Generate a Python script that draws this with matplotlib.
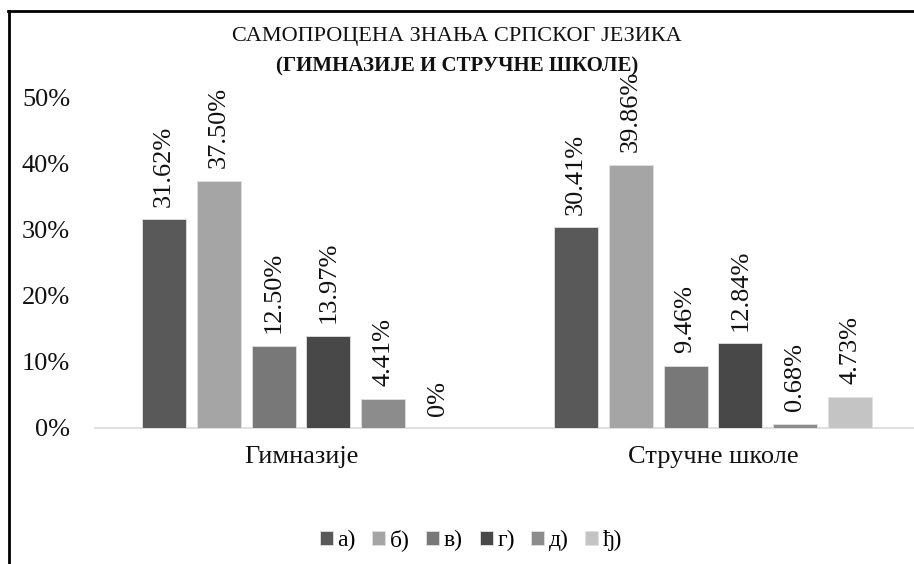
import matplotlib.pyplot as plt
import numpy as np
from matplotlib.lines import Line2D
from matplotlib.ticker import FuncFormatter

plt.rcParams['font.family'] = ['Liberation Serif', 'DejaVu Serif']

# self-assessed knowledge of Serbian, by school type
schools = ['Гимназије', 'Стручне школе']
answers = ['а)', 'б)', 'в)', 'г)', 'д)', 'ђ)']
gimnazije = [31.62, 37.50, 12.50, 13.97, 4.41, 0.0]
strucne = [30.41, 39.86, 9.46, 12.84, 0.68, 4.73]
colors = ['#595959', '#a5a5a5', '#787878', '#484848', '#8c8c8c', '#c4c4c4']

values = np.array([gimnazije, strucne]) / 100.0

fig = plt.figure(figsize=(9.14, 5.64), dpi=100)
ax = fig.add_axes([95 / 914, 1 - 428 / 564, 824 / 914, 330 / 564])

x = np.arange(len(schools))
step = 0.8 / len(answers)
for i, (name, col) in enumerate(zip(answers, colors)):
    pos = x + (i - (len(answers) - 1) / 2) * step
    bars = ax.bar(pos, values[:, i], width=step * 0.8, color=col,
                  edgecolor='#e0e0e0', linewidth=0.6, label=name, zorder=3)
    for b, v in zip(bars, values[:, i]):
        txt = '0%' if v == 0 else f'{v * 100:.2f}%'
        ax.annotate(txt, (b.get_x() + b.get_width() / 2, v),
                    xytext=(0, 9), textcoords='offset points',
                    ha='center', va='bottom', rotation=90, fontsize=19,
                    color='#111111')

ax.set_xlim(-0.5, 1.5)
ax.set_ylim(0, 0.5)
ax.set_yticks(np.arange(0, 0.51, 0.1))
ax.yaxis.set_major_formatter(FuncFormatter(lambda v, p: f'{v * 100:.0f}%'))
ax.set_xticks(x)
ax.set_xticklabels(schools)
ax.tick_params(axis='both', length=0, labelsize=19, colors='#111111')
ax.tick_params(axis='y', pad=18)
ax.tick_params(axis='x', pad=13)
for s in ['top', 'right', 'left']:
    ax.spines[s].set_visible(False)
ax.spines['bottom'].set_color('#d9d9d9')
ax.spines['bottom'].set_linewidth(1.2)

fig.text(0.5, 1 - 37 / 564, 'САМОПРОЦЕНА ЗНАЊА СРПСКОГ ЈЕЗИКА',
         ha='center', va='center', fontsize=16, color='#111111')
fig.text(0.5, 1 - 66 / 564, '(ГИМНАЗИЈЕ И СТРУЧНЕ ШКОЛЕ)',
         ha='center', va='center', fontsize=15, fontweight='bold', color='#111111')

fig.legend(loc='center', bbox_to_anchor=(471 / 914, 1 - 540 / 564), ncol=6,
           frameon=False, fontsize=17, handlelength=0.55, handleheight=0.55,
           handletextpad=0.2, columnspacing=0.7)

# outer frame of the chart area
fig.add_artist(Line2D([8.5 / 914, 8.5 / 914], [0, 1 - 11 / 564],
                      transform=fig.transFigure, color='black', lw=2))
fig.add_artist(Line2D([8 / 914, 1], [1 - 11 / 564, 1 - 11 / 564],
                      transform=fig.transFigure, color='black', lw=2))

fig.savefig('out.png', dpi=100)
